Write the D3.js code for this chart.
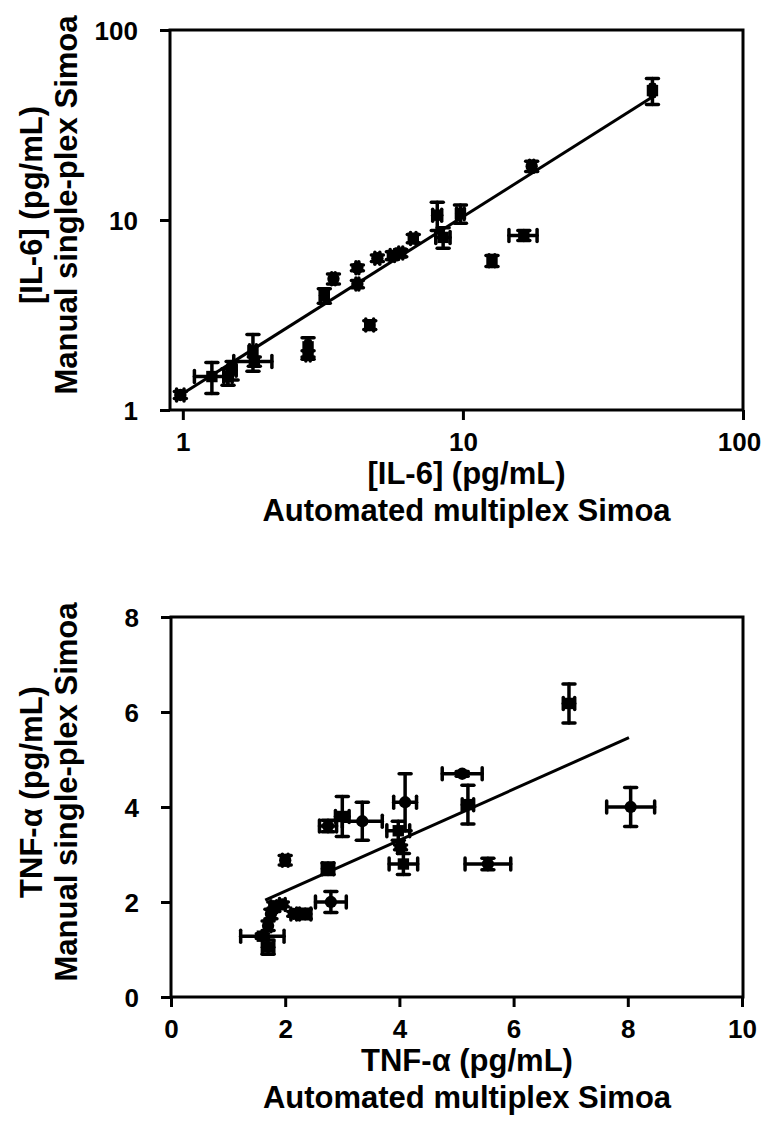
<!DOCTYPE html>
<html>
<head>
<meta charset="utf-8">
<script src="https://cdn.jsdelivr.net/npm/d3@7/dist/d3.min.js"></script>
<style>
  body { margin: 0; background: #fff; }
  svg text { font-family: "Liberation Sans", Arial, sans-serif; font-weight: bold; fill: #000; }
</style>
</head>
<body>
<div id="chart"></div>
<script>
// ---- IL-6 panel data (pg/mL) ----
var il6X     = [0.98, 1.27, 1.45, 1.5, 1.78, 1.8, 2.8, 2.8, 4.65, 3.2, 3.45, 4.2, 4.2, 4.95, 5.6, 6.0, 6.65, 8.1, 8.5, 9.8, 12.7, 16.5, 17.6, 47.5];
var il6Y     = [1.2, 1.5, 1.5, 1.62, 2.05, 1.8, 2.15, 1.95, 2.8, 4.0, 4.9, 5.6, 4.6, 6.3, 6.5, 6.7, 8.0, 10.6, 8.1, 10.8, 6.1, 8.3, 19.2, 48];
var il6XErr  = [0.03, 0.17, 0.05, 0.05, 0.05, 0.28, 0.05, 0.05, 0.15, 0.1, 0.05, 0.05, 0.05, 0.1, 0.1, 0.1, 0.15, 0.3, 0.5, 0.3, 0.3, 1.9, 0.3, 0.8];
var il6YErr  = [0.05, 0.28, 0.15, 0.18, 0.45, 0.1, 0.25, 0.1, 0.15, 0.35, 0.3, 0.2, 0.2, 0.25, 0.3, 0.3, 0.4, 1.8, 1.0, 1.2, 0.4, 0.5, 1.2, 7.5];
var il6Shape = ["circle", "square", "circle", "square", "square", "square", "square", "square", "square", "square", "circle", "circle", "circle", "circle", "square", "square", "square", "square", "square", "square", "square", "square", "circle", "square"];
var il6FitX  = [1, 47];
var il6FitY  = [1.22, 44];
var il6Ticks = [1, 10, 100];

// ---- TNF-alpha panel data (pg/mL) ----
var tnfX     = [1.6, 1.7, 1.7, 1.75, 1.8, 1.95, 2.15, 2.35, 2.0, 2.75, 2.8, 2.75, 3.0, 3.35, 4.1, 3.98, 4.02, 4.07, 5.1, 5.2, 5.55, 6.97, 8.05];
var tnfY     = [1.28, 1.05, 1.5, 1.75, 1.9, 1.95, 1.75, 1.75, 2.88, 2.7, 2.0, 3.6, 3.8, 3.7, 4.1, 3.5, 3.15, 2.8, 4.7, 4.05, 2.8, 6.18, 4.0];
var tnfXErr  = [0.38, 0.1, 0.05, 0.05, 0.05, 0.05, 0.05, 0.1, 0.05, 0.1, 0.27, 0.15, 0.12, 0.35, 0.2, 0.2, 0.05, 0.25, 0.35, 0.1, 0.4, 0.1, 0.42];
var tnfYErr  = [0.05, 0.15, 0.1, 0.1, 0.1, 0.05, 0.05, 0.1, 0.1, 0.12, 0.22, 0.12, 0.42, 0.4, 0.6, 0.2, 0.05, 0.22, 0.05, 0.41, 0.12, 0.41, 0.41];
var tnfShape = ["square", "square", "circle", "circle", "square", "circle", "circle", "circle", "circle", "square", "circle", "circle", "square", "circle", "circle", "square", "circle", "square", "circle", "square", "circle", "square", "circle"];
var tnfFitX  = [1.65, 8.02];
var tnfFitY  = [2.04, 5.46];
var tnfTicks = [0, 2, 4, 6, 8, 10];
var tnfYTicks = [0, 2, 4, 6, 8];

var W = 763, H = 1129;
var svg = d3.select("#chart").append("svg").attr("width", W).attr("height", H);

function drawPanel(g, p) {
  var left = p.left, right = p.right, top = p.top, bottom = p.bottom;

  // frame
  g.append("rect")
    .attr("x", left).attr("y", top)
    .attr("width", right - left).attr("height", bottom - top)
    .attr("fill", "none").attr("stroke", "#000").attr("stroke-width", 3);

  // axes (ticks + labels only, the frame draws the line)
  var xAxis = d3.axisBottom(p.x).tickValues(p.xTicks).tickSize(10).tickPadding(13).tickFormat(d3.format("d"));
  var yAxis = d3.axisLeft(p.y).tickValues(p.yTicks).tickSize(10).tickPadding(22).tickFormat(d3.format("d"));

  var gx = g.append("g").attr("transform", "translate(0," + bottom + ")").call(xAxis);
  var gy = g.append("g").attr("transform", "translate(" + left + ",0)").call(yAxis);
  [gx, gy].forEach(function (a) {
    a.select(".domain").remove();
    a.selectAll(".tick line").attr("stroke", "#000").attr("stroke-width", 3);
    a.selectAll(".tick text").style("font-size", "26px").attr("fill", "#000");
  });
  gx.selectAll(".tick text").attr("dy", "0.71em");
  gy.selectAll(".tick text").attr("dy", "0.36em");
  // keep the last x label inside the page
  gx.selectAll(".tick text").filter(function (d, i, n) { return i == n.length - 1; }).attr("dx", p.lastDx);

  // trend line
  var line = d3.line().x(function (d) { return p.x(d[0]); }).y(function (d) { return p.y(d[1]); });
  g.append("path")
    .datum(p.fitX.map(function (v, i) { return [v, p.fitY[i]]; }))
    .attr("d", line)
    .attr("fill", "none").attr("stroke", "#000").attr("stroke-width", 3);

  var pts = p.xs.map(function (v, i) {
    return { x: v, y: p.ys[i], ex: p.xErr[i], ey: p.yErr[i], shape: p.shapes[i] };
  });

  var cap = 6;
  var eb = g.append("g").attr("stroke", "#000").attr("stroke-width", 3.5).attr("stroke-linecap", "round");
  pts.forEach(function (d) {
    var cx = p.x(d.x), cy = p.y(d.y);
    var x0 = p.x(d.x - d.ex), x1 = p.x(d.x + d.ex);
    var y0 = p.y(d.y - d.ey), y1 = p.y(d.y + d.ey);
    eb.append("line").attr("x1", x0).attr("x2", x1).attr("y1", cy).attr("y2", cy);
    eb.append("line").attr("x1", x0).attr("x2", x0).attr("y1", cy - cap).attr("y2", cy + cap);
    eb.append("line").attr("x1", x1).attr("x2", x1).attr("y1", cy - cap).attr("y2", cy + cap);
    eb.append("line").attr("x1", cx).attr("x2", cx).attr("y1", y0).attr("y2", y1);
    eb.append("line").attr("x1", cx - cap).attr("x2", cx + cap).attr("y1", y0).attr("y2", y0);
    eb.append("line").attr("x1", cx - cap).attr("x2", cx + cap).attr("y1", y1).attr("y2", y1);
  });

  var sq = d3.symbol().type(d3.symbolSquare).size(130);
  var ci = d3.symbol().type(d3.symbolCircle).size(120);
  g.append("g").selectAll("path.pt")
    .data(pts)
    .enter()
    .append("path")
    .attr("class", "pt")
    .attr("transform", function (d) { return "translate(" + p.x(d.x) + "," + p.y(d.y) + ")"; })
    .attr("d", function (d) { return d.shape == "square" ? sq() : ci(); })
    .attr("fill", "#000");

  // axis titles (two lines each)
  var midX = (left + right) / 2 + 10, midY = (top + bottom) / 2 - 15;
  g.append("text").attr("x", midX).attr("y", bottom + 74).attr("text-anchor", "middle").style("font-size", "31px").text(p.xTitle[0]);
  g.append("text").attr("x", midX).attr("y", bottom + 111).attr("text-anchor", "middle").style("font-size", "31px").text(p.xTitle[1]);
  g.append("text").attr("transform", "translate(42," + midY + ") rotate(-90)").attr("text-anchor", "middle").style("font-size", "31px").text(p.yTitle[0]);
  g.append("text").attr("transform", "translate(77," + midY + ") rotate(-90)").attr("text-anchor", "middle").style("font-size", "31px").text(p.yTitle[1]);
}

// top: IL-6, log-log
drawPanel(svg.append("g"), {
  left: 170, right: 743, top: 30, bottom: 410,
  x: d3.scaleLog().domain([0.9, 100]).range([170, 743]),
  y: d3.scaleLog().domain([1, 100]).range([410, 30]),
  xTicks: il6Ticks, yTicks: il6Ticks, lastDx: -4,
  xs: il6X, ys: il6Y, xErr: il6XErr, yErr: il6YErr, shapes: il6Shape,
  fitX: il6FitX, fitY: il6FitY,
  xTitle: ["[IL-6] (pg/mL)", "Automated multiplex Simoa"],
  yTitle: ["[IL-6] (pg/mL)", "Manual single-plex Simoa"]
});

// bottom: TNF-alpha, linear
drawPanel(svg.append("g"), {
  left: 171, right: 743, top: 617, bottom: 997,
  x: d3.scaleLinear().domain([0, 10]).range([171, 742]),
  y: d3.scaleLinear().domain([0, 8]).range([997, 617]),
  xTicks: tnfTicks, yTicks: tnfYTicks, lastDx: 0,
  xs: tnfX, ys: tnfY, xErr: tnfXErr, yErr: tnfYErr, shapes: tnfShape,
  fitX: tnfFitX, fitY: tnfFitY,
  xTitle: ["TNF-\u03b1 (pg/mL)", "Automated multiplex Simoa"],
  yTitle: ["TNF-\u03b1 (pg/mL)", "Manual single-plex Simoa"]
});
</script>
</body>
</html>
